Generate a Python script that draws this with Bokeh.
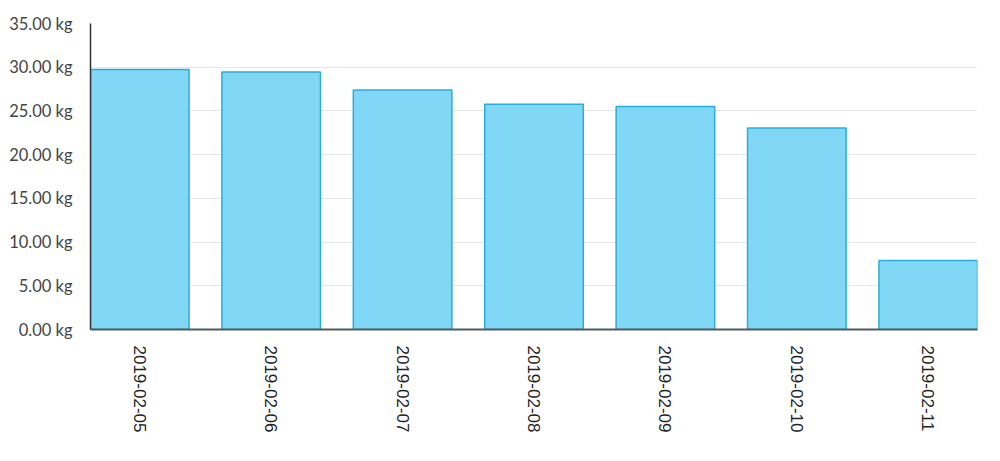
import math
from bokeh.plotting import figure
from bokeh.models import ColumnDataSource, FixedTicker, CustomJSTickFormatter, Range1d
from bokeh.embed import file_html
from bokeh.resources import INLINE

dates = ["2019-02-05", "2019-02-06", "2019-02-07", "2019-02-08", "2019-02-09", "2019-02-10", "2019-02-11"]
weights = [29.75, 29.45, 27.4, 25.75, 25.5, 23.05, 7.9]
y_ticks = [0, 5, 10, 15, 20, 25, 30, 35]

idx = list(range(len(dates)))
src = ColumnDataSource(dict(x=idx, top=weights, label=dates))

p = figure(width=992, height=453, output_backend="svg", toolbar_location=None,
           x_range=Range1d(-0.375, len(dates) - 0.625), y_range=Range1d(0, 35),
           min_border_left=90, min_border_top=23, min_border_right=15, min_border_bottom=124)
p.outline_line_color = None
p.background_fill_color = "white"
p.border_fill_color = "white"

p.vbar(x="x", top="top", width=0.75, bottom=0, source=src,
       fill_color="#80d7f6", line_color="#2aaed8", line_width=1.5)

# y axis
p.yaxis.ticker = FixedTicker(ticks=y_ticks)
p.yaxis.formatter = CustomJSTickFormatter(code='return tick.toFixed(2) + " kg";')
p.yaxis.major_tick_line_color = None
p.yaxis.minor_tick_line_color = None
p.yaxis.axis_line_color = "#333333"
p.yaxis.axis_line_width = 1.5
p.yaxis.major_label_text_font = "Lato"
p.yaxis.major_label_text_font_size = "16.5px"
p.yaxis.major_label_text_color = "#444444"
p.yaxis.major_label_standoff = 12

# x axis
p.xaxis.ticker = FixedTicker(ticks=idx)
p.xaxis.major_label_overrides = {i: d for i, d in zip(idx, dates)}
p.xaxis.major_label_orientation = -math.pi / 2
p.xaxis.major_tick_line_color = None
p.xaxis.minor_tick_line_color = None
p.xaxis.axis_line_color = "#505a64"
p.xaxis.axis_line_width = 2
p.xaxis.major_label_text_font = "Liberation Sans"
p.xaxis.major_label_text_font_size = "17px"
p.xaxis.major_label_text_color = "#222222"
p.xaxis.major_label_standoff = 10

p.xgrid.grid_line_color = None
p.ygrid.grid_line_color = "#e6e6e6"
p.ygrid.grid_line_width = 1
p.ygrid.bounds = (0, 32)

open("out.html", "w").write(file_html(p, INLINE))
